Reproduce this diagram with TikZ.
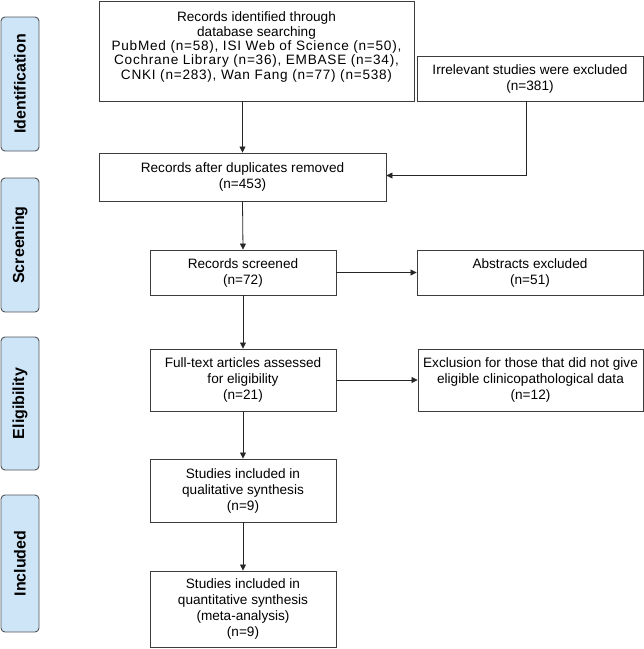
\documentclass[tikz,border=0pt]{standalone}
\usepackage{fontspec}
\setmainfont{Liberation Sans}
\usetikzlibrary{arrows.meta}
\definecolor{sidefill}{RGB}{206,229,248}
\definecolor{sideline}{RGB}{80,84,90}
\definecolor{boxline}{RGB}{60,60,60}
\newcommand{\wideline}[1]{{\addfontfeature{LetterSpace=5.5}#1}}
\begin{document}
\begin{tikzpicture}[x=1pt,y=-1pt,
  flowbox/.style={draw=boxline,line width=0.9pt,fill=white,align=center,inner sep=0pt,
    font=\fontsize{13.6}{16}\selectfont},
  sidebox/.style={draw=sideline,line width=0.9pt,fill=sidefill,rounded corners=4pt,
    minimum width=38pt,inner sep=0pt},
  sidetext/.style={rotate=90,font=\bfseries\fontsize{16}{18}\selectfont},
  arr/.style={draw=black!85,line width=0.8pt,-{Triangle[length=6pt,width=6pt]}}]
\useasboundingbox (0,0) rectangle (644,649);
% side labels
\node[sidebox,minimum height=134pt] (id) at (20,84) {};
\node[sidetext] (idt) at (id.center) {Identification};
\node[sidebox,minimum height=134pt] (scr) at (20,245) {};
\node[sidetext] (scrt) at (scr.center) {Screening};
\node[sidebox,minimum height=133pt] (elig) at (20,403.5) {};
\node[sidetext] (eligt) at (elig.center) {Eligibility};
\node[sidebox,minimum height=137pt] (incl) at (20,563.5) {};
\node[sidetext] (inclt) at (incl.center) {Included};
% flow boxes
\node[flowbox,minimum width=315pt,minimum height=100pt] (rec) at (256.5,51) {};
\node[align=center,inner sep=0pt,font=\fontsize{13.6}{14.3}\selectfont] (rect) at ([yshift=4pt]rec.center)
  {Records identified through\\database searching\\\wideline{PubMed (n=58), ISI Web of Science (n=50),}\\\wideline{Cochrane Library (n=36), EMBASE (n=34),}\\\wideline{CNKI (n=283), Wan Fang (n=77) (n=538)}};
\node[flowbox,minimum width=226pt,minimum height=45pt] (irr) at (530,78.5)
  {Irrelevant studies were excluded\\(n=381)};
\node[flowbox,minimum width=287pt,minimum height=48pt] (dup) at (242.5,177)
  {Records after duplicates removed\\(n=453)};
\node[flowbox,minimum width=186pt,minimum height=45pt] (scrn) at (243,272.5)
  {Records screened\\(n=72)};
\node[flowbox,minimum width=226pt,minimum height=45pt] (abs) at (530,272.5)
  {Abstracts excluded\\(n=51)};
\node[flowbox,minimum width=186pt,minimum height=62pt] (full) at (243,380)
  {Full-text articles assessed\\for eligibility\\(n=21)};
\node[flowbox,minimum width=225pt,minimum height=62pt] (excl) at (530.5,380)
  {Exclusion for those that did not give\\eligible clinicopathological data\\(n=12)};
\node[flowbox,minimum width=186pt,minimum height=63pt] (qual) at (243,490.5)
  {Studies included in\\qualitative synthesis\\(n=9)};
\node[flowbox,minimum width=186pt,minimum height=76pt] (quant) at (243,609)
  {Studies included in\\quantitative synthesis\\(meta-analysis)\\(n=9)};
% connectors
\draw[arr] (dup.north |- rec.south) -- (dup.north);
\draw[arr] ([xshift=-4pt]irr.south) |- ([yshift=1.5pt]dup.east);
\draw[arr] (dup.south) -- (scrn.north);
\draw[arr] (scrn.east) -- (abs.west);
\draw[arr] (scrn.south) -- (full.north);
\draw[arr] (full.east) -- (excl.west);
\draw[arr] (full.south) -- (qual.north);
\draw[arr] (qual.south) -- (quant.north);
\end{tikzpicture}
\end{document}
